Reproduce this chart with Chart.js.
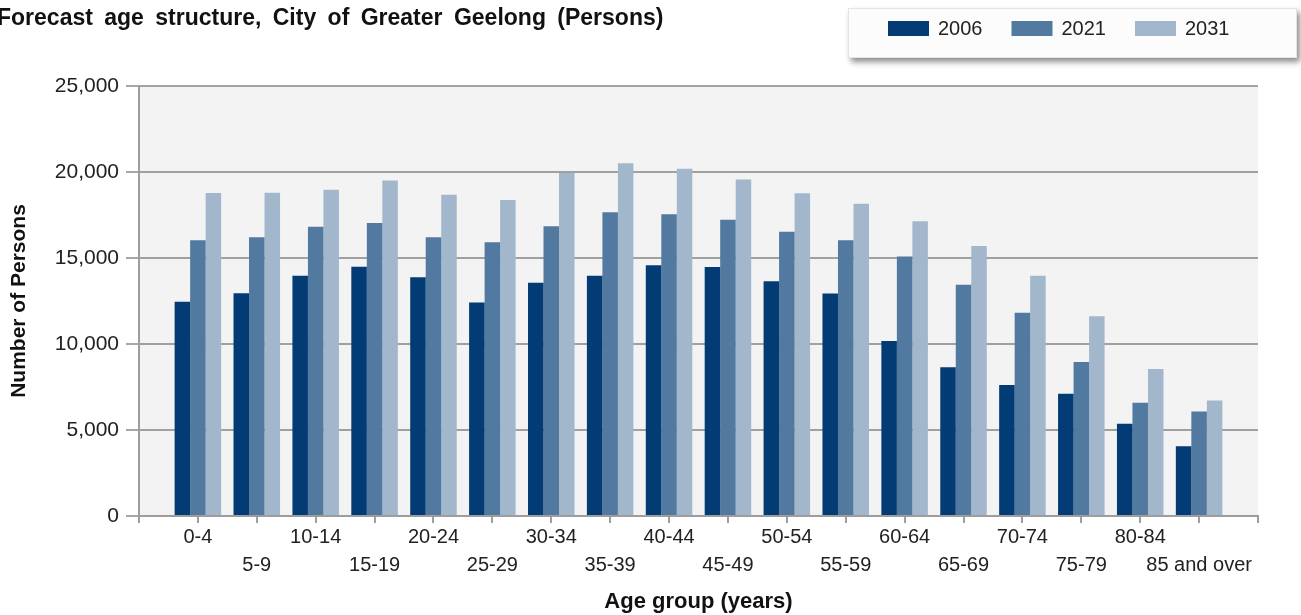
<!DOCTYPE html>
<html>
<head>
<meta charset="utf-8">
<title>Forecast age structure, City of Greater Geelong</title>
<script src="https://cdn.jsdelivr.net/npm/chart.js@4.4.0/dist/chart.umd.min.js"></script>
<style>
  html, body { margin: 0; padding: 0; background: #fff; }
  canvas { display: block; }
</style>
</head>
<body>
<canvas id="chart" width="1301" height="615"></canvas>
<script>
const chartTitle = 'Forecast age structure, City of Greater Geelong (Persons)';

const ageGroups = ['0-4', '5-9', '10-14', '15-19', '20-24', '25-29', '30-34', '35-39', '40-44',
    '45-49', '50-54', '55-59', '60-64', '65-69', '70-74', '75-79', '80-84', '85 and over'];

const seriesLabels = ['2006', '2021', '2031'];
const seriesColors = ['#033b74', '#52799f', '#a3b7cc'];

const persons2006 = [12450, 12950, 13970, 14490, 13880, 12420, 13560, 13970, 14580,
    14480, 13650, 12930, 10170, 8650, 7620, 7110, 5370, 4050];
const persons2021 = [16030, 16200, 16820, 17040, 16200, 15910, 16840, 17660, 17540,
    17230, 16530, 16030, 15080, 13450, 11820, 8950, 6590, 6070];
const persons2031 = [18780, 18800, 18970, 19500, 18680, 18370, 19940, 20510, 20190,
    19570, 18760, 18160, 17130, 15700, 13970, 11610, 8550, 6710];

const yTicks = [0, 5000, 10000, 15000, 20000, 25000];

const FONT = '"Liberation Sans", Arial, sans-serif';
Chart.defaults.font.family = FONT;
Chart.defaults.color = '#222';

// one empty slot either side of the groups, like the original axis
const pad = arr => [null, ...arr, null];
const axisLabels = ['', ...ageGroups, ''];

const chartFrame = {
    id: 'chartFrame',
    beforeDraw(chart) {
        const { ctx, chartArea: a } = chart;
        ctx.save();
        ctx.fillStyle = '#ffffff';
        ctx.fillRect(0, 0, chart.width, chart.height);
        ctx.fillStyle = '#f3f3f3';
        ctx.fillRect(a.left, a.top, a.right - a.left, a.bottom - a.top);

        // title
        ctx.fillStyle = '#111';
        ctx.textBaseline = 'middle';
        ctx.textAlign = 'left';
        ctx.font = 'bold 23px ' + FONT;
        ctx.wordSpacing = '5px';
        ctx.fillText(chartTitle, -3, 19);
        ctx.wordSpacing = '0px';

        // legend box with drop shadow
        ctx.shadowColor = 'rgba(0,0,0,0.45)';
        ctx.shadowBlur = 6;
        ctx.shadowOffsetX = 3;
        ctx.shadowOffsetY = 4;
        ctx.fillStyle = '#fcfcfc';
        ctx.fillRect(848, 8, 449, 50);
        ctx.shadowColor = 'transparent';
        ctx.strokeStyle = '#e4e4e4';
        ctx.lineWidth = 1;
        ctx.strokeRect(848.5, 8.5, 448, 49);

        ctx.font = '20px ' + FONT;
        let x = 888;
        chart.data.datasets.forEach(ds => {
            ctx.fillStyle = ds.backgroundColor;
            ctx.fillRect(x, 21, 41, 15);
            ctx.fillStyle = '#222';
            ctx.fillText(ds.label, x + 50, 29);
            x += 50 + ctx.measureText(ds.label).width + 29;
        });
        ctx.restore();
    }
};

const datasets = [persons2006, persons2021, persons2031].map((vals, i) => ({
    label: seriesLabels[i],
    data: pad(vals),
    backgroundColor: seriesColors[i],
    borderWidth: 0,
    barPercentage: 1.0,
    categoryPercentage: 0.79,
}));

const chart = new Chart(document.getElementById('chart'), {
    type: 'bar',
    data: {
        labels: axisLabels,
        datasets: datasets,
    },
    options: {
        responsive: false,
        animation: false,
        layout: { padding: { left: 0, right: 43, top: 86, bottom: 0 } },
        scales: {
            x: {
                offset: false,
                afterFit(s) { s.height = 99; },
                grid: { offset: false, drawOnChartArea: false, drawTicks: true, tickLength: 7, color: '#9d9d9d', lineWidth: 2 },
                border: { color: '#9d9d9d', width: 2 },
                ticks: {
                    autoSkip: false,
                    maxRotation: 0,
                    minRotation: 0,
                    padding: 0,
                    font: { size: 20, lineHeight: 1.4 },
                    callback(v, i) {
                        const k = i - 1;
                        if (k < 0 || k >= ageGroups.length) return '';
                        return k % 2 === 0 ? ageGroups[k] : ['', ageGroups[k]];
                    },
                },
                title: {
                    display: true,
                    text: 'Age group (years)',
                    color: '#111',
                    font: { size: 22, weight: 'bold' },
                    padding: { top: 0, bottom: 0 },
                },
            },
            y: {
                min: 0,
                max: 25000,
                z: 1,
                afterFit(s) { s.width = 139; },
                afterBuildTicks(s) { s.ticks = yTicks.map(v => ({ value: v })); },
                grid: { color: 'rgba(60,60,60,0.45)', lineWidth: 2, tickLength: 13 },
                border: { color: '#9d9d9d', width: 2 },
                ticks: {
                    padding: 7,
                    font: { size: 21 },
                    callback: v => v.toLocaleString('en-US'),
                },
                title: {
                    display: true,
                    text: 'Number of Persons',
                    color: '#111',
                    font: { size: 21, weight: 'bold' },
                    padding: { top: 7, bottom: 0 },
                },
            },
        },
        plugins: {
            legend: { display: false },
            title: { display: false },
            tooltip: { enabled: false },
        },
    },
    plugins: [chartFrame],
});
</script>
</body>
</html>
